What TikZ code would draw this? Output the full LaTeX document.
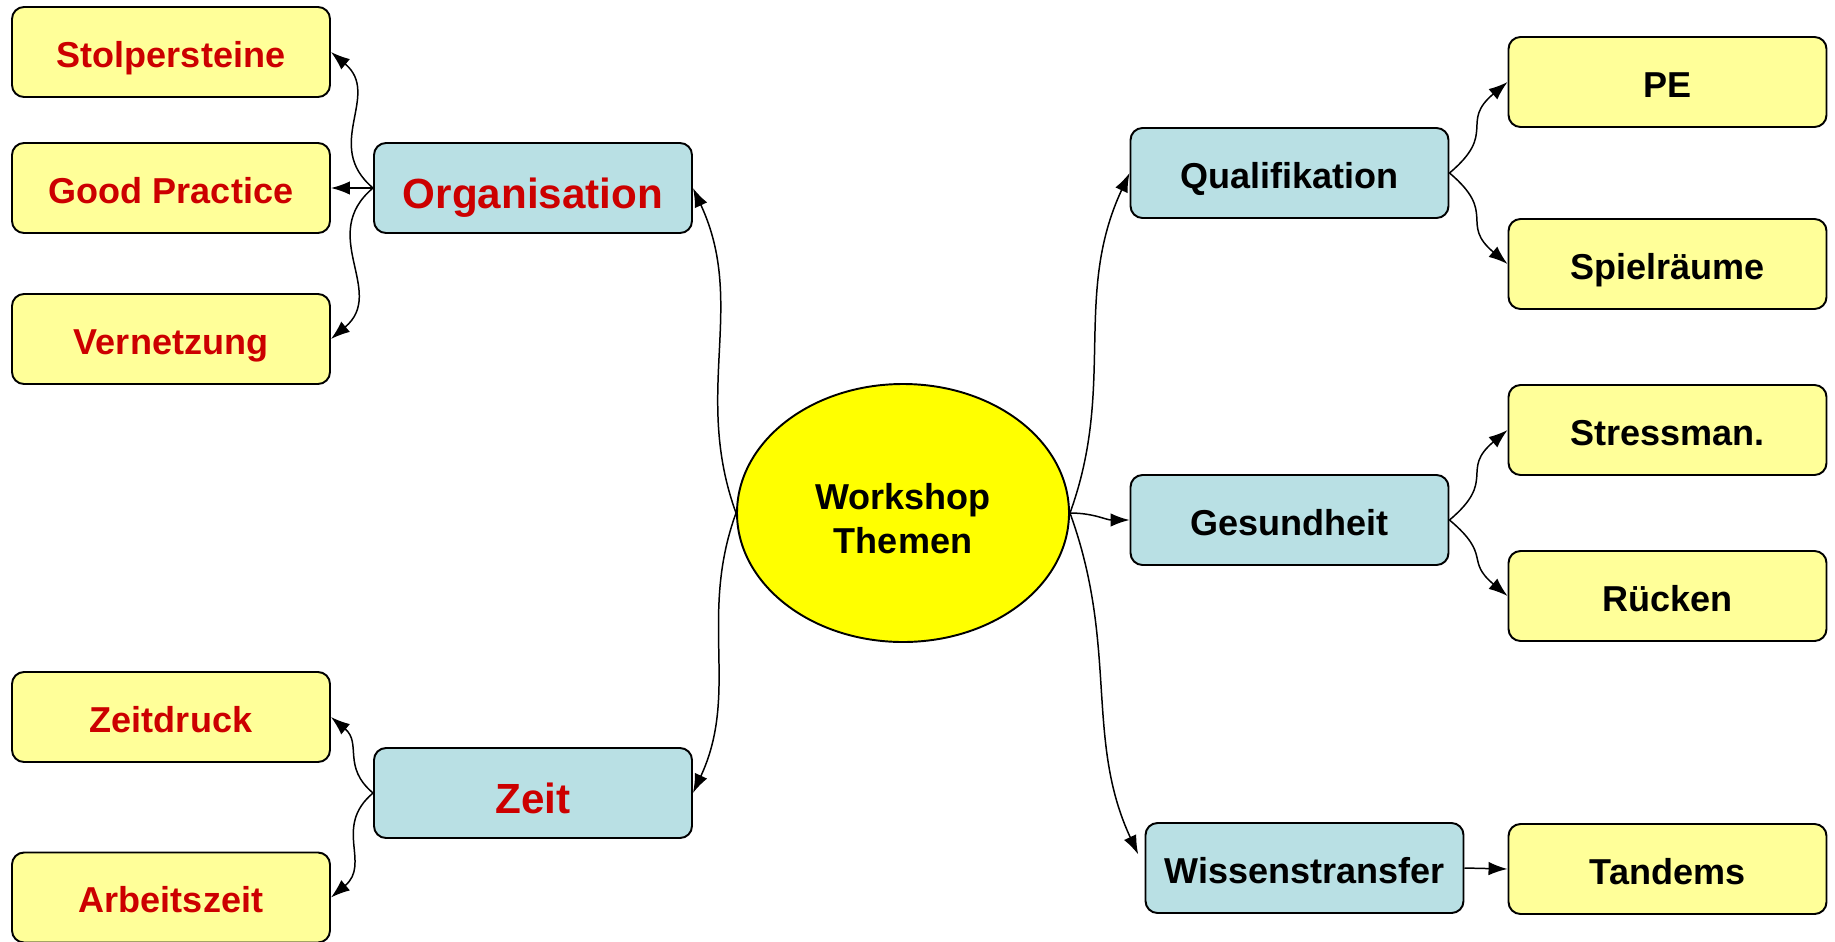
\documentclass[tikz,border=0pt]{standalone}
\usepackage{fontspec}
\setmainfont{Liberation Sans}
\usetikzlibrary{arrows.meta,shapes.geometric}
\definecolor{boxyellow}{HTML}{FFFF99}
\definecolor{boxblue}{HTML}{B9E0E4}
\definecolor{hubyellow}{HTML}{FFFF00}
\definecolor{themered}{HTML}{CC0000}
\tikzset{
	topicbox/.style={draw=black, line width=1.1pt, rounded corners=0.24cm, minimum width=6.36cm, minimum height=1.8cm, inner sep=0pt, text height=0.6cm, text depth=0pt, font=\fontsize{20.5}{25}\selectfont\bfseries},
	subbox/.style={topicbox, fill=boxyellow},
	mainbox/.style={topicbox, fill=boxblue},
	bigred/.style={text=themered, text height=0.8cm, font=\fontsize{24}{29}\selectfont\bfseries},
	link/.style={line width=0.85pt, -{Latex[length=0.38cm,width=0.27cm]}},
}

\begin{document}
\begin{tikzpicture}
		%%%%% START %%%%%
		\useasboundingbox (0, 0) rectangle (36.7, -18.82);
		
		\node[ellipse, draw=black, line width=1.1pt, fill=hubyellow, minimum width=6.64cm, minimum height=5.16cm, align=center, font=\fontsize{20.5}{25}\selectfont\bfseries] (center) at (18.06, -10.26) {\\[-0.15cm]Workshop\\Themen};
		
		\node[mainbox, bigred] (org) at (10.66, -3.76) {Organisation};
		\node[mainbox, bigred] (zeit) at (10.66, -15.86) {Zeit};
		\node[mainbox] (qual) at (25.79, -3.46) {Qualifikation};
		\node[mainbox] (ges) at (25.79, -10.40) {Gesundheit};
		\node[mainbox] (wiss) at (26.09, -17.36) {Wissenstransfer};
		
		\node[subbox, text=themered] (stol) at (3.42, -1.04) {Stolpersteine};
		\node[subbox, text=themered] (good) at (3.42, -3.76) {Good Practice};
		\node[subbox, text=themered] (vern) at (3.42, -6.78) {Vernetzung};
		\node[subbox, text=themered] (zdruck) at (3.42, -14.34) {Zeitdruck};
		\node[subbox, text=themered] (azeit) at (3.42, -17.95) {Arbeitszeit};
		
		\node[subbox] (pe) at (33.35, -1.64) {PE};
		\node[subbox] (spiel) at (33.35, -5.28) {Spielräume};
		\node[subbox] (stress) at (33.35, -8.60) {Stressman.};
		\node[subbox] (rueck) at (33.35, -11.92) {Rücken};
		\node[subbox] (tand) at (33.35, -17.38) {Tandems};
		
		\draw[link] (center.west) to[out=110, in=-65] (org.east);
		\draw[link] (center.west) to[out=-110, in=65] (zeit.east);
		\draw[link] (center.east) to[out=70, in=-115] (qual.west);
		\draw[link] (center.east) to[out=0, in=180] (ges.west);
		\draw[link, shorten >=0.3cm] (center.east) to[out=-70, in=115] (wiss.west);
		
		\draw[link] (org.west) to[out=140, in=-40, looseness=1.2] (stol.east);
		\draw[link] (org.west) to[out=180, in=0] (good.east);
		\draw[link] (org.west) to[out=-140, in=40, looseness=1.2] (vern.east);
		\draw[link] (zeit.west) to[out=140, in=-40, looseness=1.2] (zdruck.east);
		\draw[link] (zeit.west) to[out=-140, in=40, looseness=1.2] (azeit.east);
		
		\draw[link] (qual.east) to[out=40, in=-140, looseness=1.5] (pe.west);
		\draw[link] (qual.east) to[out=-40, in=140, looseness=1.5] (spiel.west);
		\draw[link] (ges.east) to[out=40, in=-140, looseness=1.5] (stress.west);
		\draw[link] (ges.east) to[out=-40, in=140, looseness=1.5] (rueck.west);
		\draw[link] (wiss.east) -- (tand.west);
		
		%%%%% END %%%%%
	\end{tikzpicture}
\end{document}
